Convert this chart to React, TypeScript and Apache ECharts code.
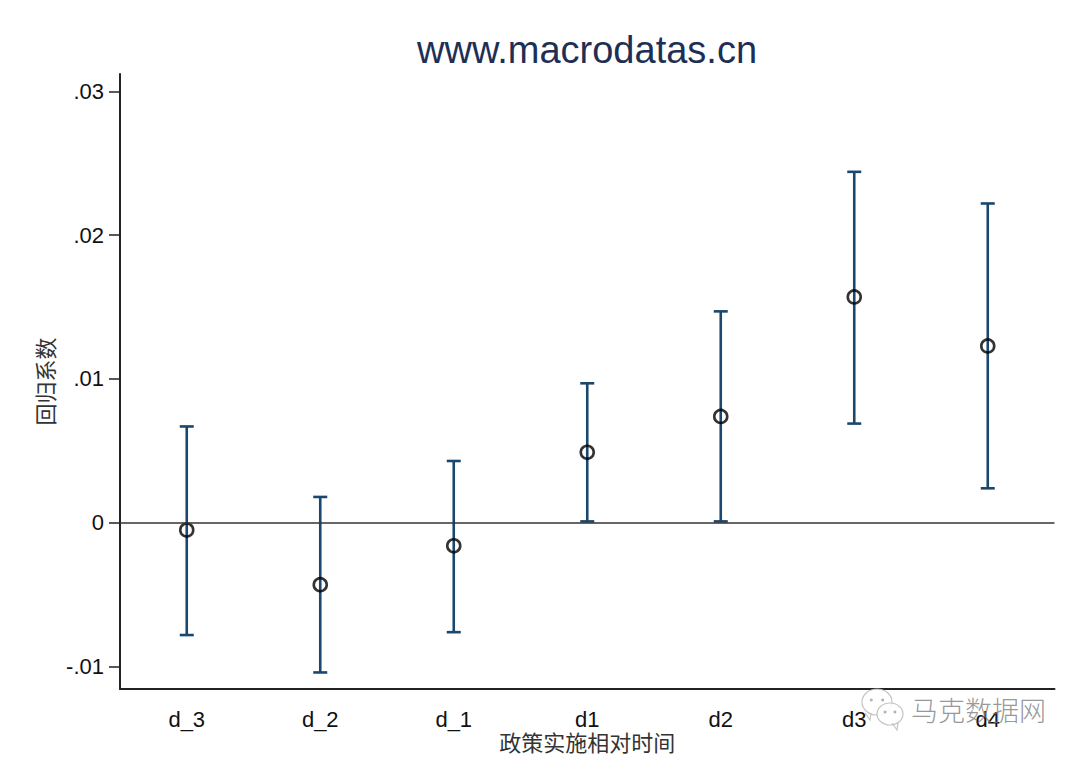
import React, { useEffect, useRef } from "react";
import * as echarts from "echarts";

const categories = ["d_3", "d_2", "d_1", "d1", "d2", "d3", "d4"];
const coef = [-0.0005, -0.0043, -0.0016, 0.0049, 0.0074, 0.0157, 0.0123];
const upper = [0.0067, 0.0018, 0.0043, 0.0097, 0.0147, 0.0244, 0.0222];
const lower = [-0.0078, -0.0104, -0.0076, 0.0001, 0.0001, 0.0069, 0.0024];
const yTicks = [-0.01, 0, 0.01, 0.02, 0.03];
const yTickLabels = ["-.01", "0", ".01", ".02", ".03"];

const NAVY = "#1a476f";
const FONT = '"Liberation Sans", Arial, sans-serif';
const CJK = '"Noto Sans CJK SC", sans-serif';

function bubble(cx: number, cy: number, rx: number, ry: number, tailX: number, z: number) {
  const stroke = "rgba(190,190,190,0.9)";
  return [
    { type: "ellipse", z, shape: { cx, cy, rx, ry }, style: { fill: "rgba(255,255,255,0.85)", stroke, lineWidth: 1.2 } },
    {
      type: "polyline",
      z,
      shape: { points: [[tailX - 5, cy + ry - 2], [tailX, cy + ry + 5], [tailX + 1, cy + ry - 2]] },
      style: { fill: "none", stroke, lineWidth: 1.2 },
    },
    { type: "circle", z, shape: { cx: cx - rx * 0.38, cy: cy - 2, r: 1.5 }, style: { fill: "rgba(170,170,170,0.9)" } },
    { type: "circle", z, shape: { cx: cx + rx * 0.38, cy: cy - 2, r: 1.5 }, style: { fill: "rgba(170,170,170,0.9)" } },
  ];
}

export default function App() {
  const ref = useRef<HTMLDivElement>(null);
  useEffect(() => {
    document.body.style.margin = "0";
    const chart = echarts.init(ref.current!, undefined, { renderer: "svg" });
    chart.setOption({
      animation: false,
      backgroundColor: "#fff",
      title: {
        text: "www.macrodatas.cn",
        left: 582,
        top: 26,
        textAlign: "center",
        textStyle: { fontFamily: FONT, fontSize: 38, fontWeight: "normal", color: "#1e2f55" },
      },
      grid: { left: 120, right: 25.5, top: 74, bottom: 69, outerBoundsMode: "none" },
      xAxis: {
        type: "category",
        data: categories,
        boundaryGap: true,
        axisLine: { onZero: false, lineStyle: { color: "#222", width: 2 } },
        axisTick: { alignWithLabel: true, length: 11, lineStyle: { color: "#222", width: 1.5 } },
        axisLabel: { margin: 19, fontFamily: FONT, fontSize: 22, color: "#111", interval: 0 },
        name: "政策实施相对时间",
        nameLocation: "middle",
        nameMoveOverlap: false,
        nameGap: 41,
        nameTextStyle: { fontFamily: CJK, fontSize: 22, color: "#333" },
      },
      yAxis: {
        type: "value",
        min: -0.01155,
        max: 0.0312,
        splitLine: { show: false },
        axisLine: { show: true, lineStyle: { color: "#222", width: 2 } },
        axisTick: { show: true, length: 11, customValues: yTicks, lineStyle: { color: "#222", width: 1.5 } },
        axisLabel: {
          customValues: yTicks,
          margin: 16,
          fontFamily: FONT,
          fontSize: 22,
          color: "#111",
          formatter: (v: number) => {
            const i = yTicks.findIndex((t) => Math.abs(t - v) < 1e-9);
            return i >= 0 ? yTickLabels[i] : "";
          },
        },
        name: "回归系数",
        nameLocation: "middle",
        nameGap: 64,
        nameTextStyle: { fontFamily: CJK, fontSize: 22, color: "#333" },
      },
      series: [
        {
          type: "custom",
          z: 2,
          data: categories.map((_, i) => [i, lower[i], upper[i]]),
          encode: { x: 0, y: [1, 2] },
          renderItem: (_p: any, api: any) => {
            const lo = api.coord([api.value(0), api.value(1)]);
            const hi = api.coord([api.value(0), api.value(2)]);
            const cap = 7;
            const style = { stroke: NAVY, lineWidth: 2.6, fill: "none" };
            return {
              type: "group",
              children: [
                { type: "line", shape: { x1: lo[0], y1: lo[1], x2: hi[0], y2: hi[1] }, style },
                { type: "line", shape: { x1: lo[0] - cap, y1: lo[1], x2: lo[0] + cap, y2: lo[1] }, style },
                { type: "line", shape: { x1: hi[0] - cap, y1: hi[1], x2: hi[0] + cap, y2: hi[1] }, style },
              ],
            };
          },
        },
        {
          type: "scatter",
          z: 3,
          data: coef.map((v, i) => [i, v]),
          symbol: "circle",
          symbolSize: 13,
          itemStyle: { color: "rgba(0,0,0,0)", borderColor: "#000", borderWidth: 2.6 },
          markLine: {
            silent: true,
            symbol: "none",
            label: { show: false },
            lineStyle: { color: "#333", width: 1.5, type: "solid" },
            data: [{ yAxis: 0 }],
          },
        },
      ],
      graphic: [
        ...bubble(877, 702, 15, 13, 870, 50),
        ...bubble(890, 714, 13, 11, 897, 51),
        {
          type: "text",
          z: 52,
          x: 911,
          y: 696,
          style: { text: "马克数据网", fontFamily: CJK, fontSize: 27, fontWeight: 300, fill: "rgba(125,125,125,0.8)" },
        },
      ],
    });
    return () => chart.dispose();
  }, []);
  return <div ref={ref} style={{ width: 1080, height: 758 }} />;
}
